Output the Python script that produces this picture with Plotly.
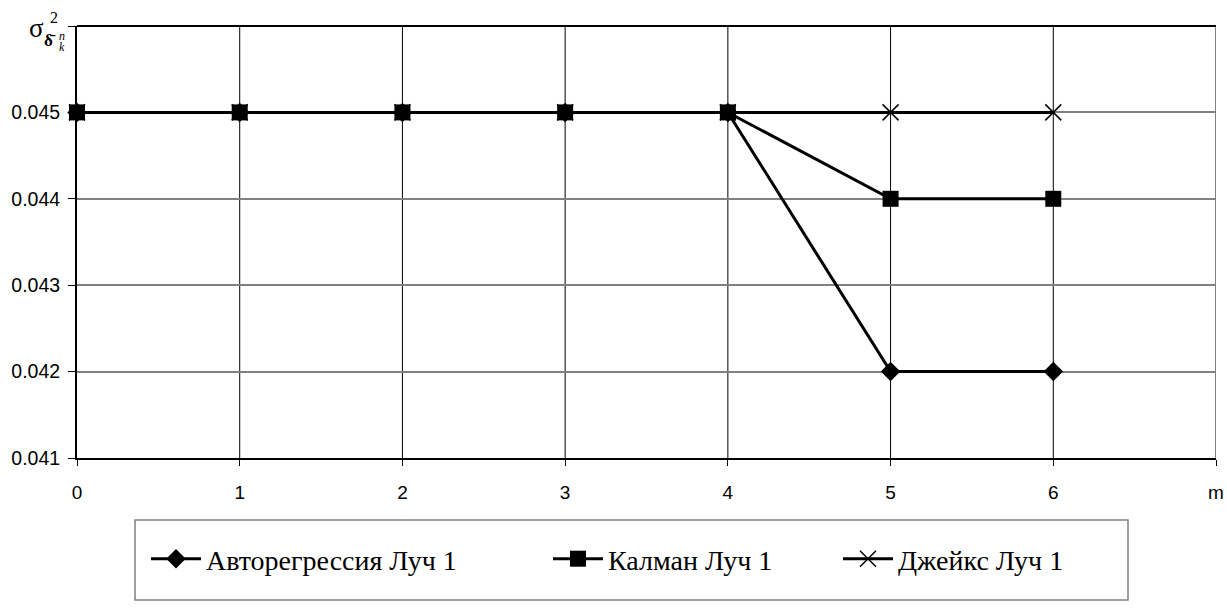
import plotly.graph_objects as go

# Number of rays m and the error variance for each estimator
m_values = [0, 1, 2, 3, 4, 5, 6]
autoregression = [0.045, 0.045, 0.045, 0.045, 0.045, 0.042, 0.042]
kalman = [0.045, 0.045, 0.045, 0.045, 0.045, 0.044, 0.044]
jakes = [0.045, 0.045, 0.045, 0.045, 0.045, 0.045, 0.045]

x_tick_vals = [0, 1, 2, 3, 4, 5, 6, 7]
x_tick_text = ["0", "1", "2", "3", "4", "5", "6", "m"]
y_tick_vals = [0.041, 0.042, 0.043, 0.044, 0.045, 0.046]
y_tick_text = ["0.041", "0.042", "0.043", "0.044", "0.045", ""]

series_names = ["Авторегрессия Луч 1", "Калман Луч 1", "Джейкс Луч 1"]

SERIF = "Liberation Serif"
SANS = "Liberation Sans"

# plot area in pixels
L, R, T, B = 77, 1216, 26, 458
W, H = R - L, B - T


def px_x(p):
    return (p - L) / W


def px_y(p):
    return (B - p) / H


fig = go.Figure()

fig.add_trace(go.Scatter(
    x=m_values, y=jakes, name=series_names[2], mode="lines+markers",
    line=dict(color="black", width=3),
    marker=dict(symbol="x-thin", size=16, line=dict(color="black", width=1.5)),
    legend="legend3", cliponaxis=False,
))
fig.add_trace(go.Scatter(
    x=m_values, y=autoregression, name=series_names[0], mode="lines+markers",
    line=dict(color="black", width=3),
    marker=dict(symbol="diamond", size=15, color="black"),
    legend="legend", cliponaxis=False,
))
fig.add_trace(go.Scatter(
    x=m_values, y=kalman, name=series_names[1], mode="lines+markers",
    line=dict(color="black", width=3),
    marker=dict(symbol="square", size=16, color="black"),
    legend="legend2", cliponaxis=False,
))

# vertical grid lines drawn as shapes so they stay black while horizontal ones are gray
shapes = []
for xv in x_tick_vals[1:]:
    shapes.append(dict(type="line", xref="x", yref="paper", x0=xv, x1=xv, y0=0, y1=1,
                       line=dict(color="black", width=1), layer="below"))
# top border
shapes.append(dict(type="line", xref="paper", yref="paper", x0=0, x1=1, y0=1, y1=1,
                   line=dict(color="black", width=2), layer="below"))
# legend frame
shapes.append(dict(type="rect", xref="paper", yref="paper",
                   x0=px_x(135), x1=px_x(1128), y0=px_y(600), y1=px_y(520),
                   line=dict(color="#808080", width=1.5), fillcolor="rgba(0,0,0,0)"))

legend_style = dict(
    orientation="h", yanchor="middle", xanchor="left", y=px_y(559),
    font=dict(family=SERIF, size=28, color="black"),
    bgcolor="rgba(0,0,0,0)", borderwidth=0, itemwidth=50,
)

fig.update_layout(
    width=1227, height=608,
    margin=dict(l=L, r=1227 - R, t=T, b=608 - B, autoexpand=False),
    plot_bgcolor="white", paper_bgcolor="white",
    font=dict(family=SANS, size=19, color="black"),
    shapes=shapes,
    showlegend=True,
    legend=dict(legend_style, x=px_x(146)),
    legend2=dict(legend_style, x=px_x(548)),
    legend3=dict(legend_style, x=px_x(838)),
    xaxis=dict(
        range=[0, 7], tickvals=x_tick_vals, ticktext=x_tick_text,
        showgrid=False, zeroline=False,
        showline=True, linecolor="black", linewidth=2,
        ticks="outside", ticklen=6, tickcolor="black", tickwidth=1,
        ticklabelstandoff=10,
        tickfont=dict(family=SANS, size=19),
    ),
    yaxis=dict(
        range=[0.041, 0.046], tickvals=y_tick_vals, ticktext=y_tick_text,
        showgrid=True, gridcolor="#808080", gridwidth=1.5,
        zeroline=False,
        showline=True, linecolor="black", linewidth=2,
        ticks="outside", ticklen=7, tickcolor="black", tickwidth=1,
        ticklabelstandoff=4,
        tickfont=dict(family=SANS, size=19.5),
    ),
    # axis title: sigma squared with the δ̄ subscript carrying indices n and k
    annotations=[
        dict(text="σ", xref="paper", yref="paper", x=px_x(36.5), y=px_y(28),
             showarrow=False, xanchor="center", yanchor="middle",
             font=dict(family=SERIF, size=27)),
        dict(text="2", xref="paper", yref="paper", x=px_x(54), y=px_y(18),
             showarrow=False, xanchor="center", yanchor="middle",
             font=dict(family=SERIF, size=16)),
        dict(text="<b>δ̄</b>", xref="paper", yref="paper", x=px_x(57), y=px_y(40),
             showarrow=False, xanchor="right", yanchor="middle", borderpad=0,
             font=dict(family=SERIF, size=17)),
        dict(text="<i>n</i>", xref="paper", yref="paper", x=px_x(57.5), y=px_y(36),
             showarrow=False, xanchor="left", yanchor="middle", borderpad=0,
             font=dict(family=SERIF, size=12)),
        dict(text="<i>k</i>", xref="paper", yref="paper", x=px_x(57.5), y=px_y(47),
             showarrow=False, xanchor="left", yanchor="middle", borderpad=0,
             font=dict(family=SERIF, size=12)),
    ],
)

fig.write_html("out.html")
